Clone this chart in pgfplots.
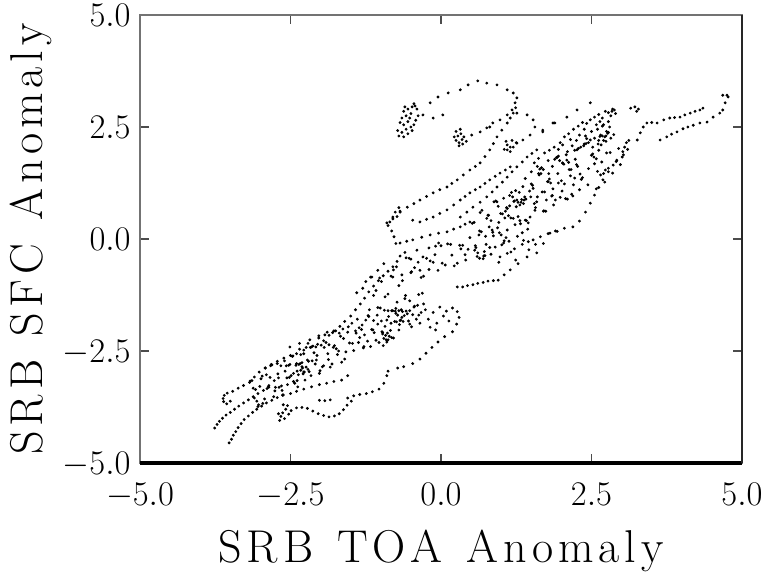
\documentclass[border=0pt]{standalone}
\usepackage{fontspec}
\usepackage{pgfplots}
\pgfplotsset{compat=1.18}
\newcommand{\lk}{\kern2.5pt}
\begin{document}
\begin{tikzpicture}
\begin{axis}[
  scale only axis,
  width=301pt, height=224pt,
  xmin=-5, xmax=5, ymin=-5, ymax=5,
  xtick={-5,-2.5,0,2.5,5}, ytick={-5,-2.5,0,2.5,5},
  xticklabels={$-5.0$,$-2.5$,$0.0$,$2.5$,$5.0$},
  yticklabels={$-5.0$,$-2.5$,$0.0$,$2.5$,$5.0$},
  tick align=inside, major tick length=4.5pt,
  tick style={black!70, line width=0.8pt},
  axis line style={black!55, line width=0.8pt},
  ticklabel style={font=\fontsize{17.5}{20}\selectfont, inner sep=0.5pt, text height=11.5pt, text depth=0pt},
  xticklabel style={yshift=-9pt},
  yticklabel style={xshift=-4pt},
  xlabel={\fontsize{23}{26}\selectfont S\lk R\lk B\lk\ \lk T\lk O\lk A\lk\ \lk A\lk n\lk o\lk m\lk a\lk l\lk y},
  ylabel={\fontsize{23}{26}\selectfont S\lk R\lk B\lk\ \lk S\lk F\lk C\lk\ \lk A\lk n\lk o\lk m\lk a\lk l\lk y},
  xlabel style={at={([yshift=-49.5pt]axis description cs:0.5,0)}, anchor=base, inner sep=0pt},
  ylabel style={at={([xshift=-48.5pt]axis description cs:0,0.5)}, anchor=base, inner sep=0pt},
  clip=false,
]
\addplot[only marks, mark=*, mark size=0.5pt, mark options={draw=none, fill=black, fill opacity=0.8}] coordinates {
(-3.52,-4.55) (-3.48,-4.47) (-3.45,-4.38) (-3.41,-4.30) (-3.37,-4.21) (-3.32,-4.12) (-3.27,-4.03) (-3.20,-3.95) (-3.13,-3.87) (-3.06,-3.80) (-2.98,-3.73) (-2.90,-3.66) (-2.81,-3.60) (-2.72,-3.54) (-2.63,-3.49)
(-3.76,-4.22) (-3.72,-4.14) (-3.68,-4.07) (-3.63,-4.00) (-3.57,-3.93) (-3.50,-3.87) (-3.43,-3.80) (-3.36,-3.73) (-3.28,-3.66) (-3.20,-3.59) (-3.12,-3.52) (-3.04,-3.45) (-2.95,-3.38) (-2.86,-3.31)
(-3.55,-3.44) (-3.60,-3.49) (-3.62,-3.56) (-3.61,-3.63) (-3.56,-3.68) (-3.50,-3.62)
(-3.46,-3.40) (-3.37,-3.33) (-3.28,-3.27) (-3.18,-3.20) (-3.10,-3.08) (-3.02,-2.97) (-2.92,-2.88) (-2.82,-2.80) (-2.72,-2.73) (-2.61,-2.66) (-2.50,-2.60) (-2.40,-2.56) (-2.28,-2.48) (-2.17,-2.42) (-2.05,-2.35) (-1.95,-2.27) (-1.86,-2.15) (-1.78,-2.05) (-1.68,-1.95) (-1.60,-1.84) (-1.50,-1.72) (-1.42,-1.58) (-1.34,-1.45) (-1.27,-1.32) (-1.20,-1.18) (-1.12,-1.05) (-1.04,-0.93) (-0.96,-0.82) (-0.88,-0.72) (-0.80,-0.62) (-0.73,-0.50) (-0.68,-0.38)
(-2.68,-4.05) (-2.66,-3.96) (-2.63,-3.88) (-2.60,-4.01) (-2.58,-3.80) (-2.55,-3.72) (-2.53,-3.91) (-2.49,-3.83) (-2.70,-3.90) (-2.62,-3.70)
(-2.40,-3.77) (-2.31,-3.76) (-2.22,-3.78) (-2.13,-3.84) (-2.04,-3.90) (-1.95,-3.94) (-1.86,-3.97) (-1.77,-3.95) (-1.69,-3.90) (-1.62,-3.81) (-1.56,-3.71) (-1.49,-3.62)
(-2.02,-3.60) (-1.93,-3.61) (-1.84,-3.59)
(-1.55,-3.55) (-1.45,-3.50) (-1.35,-3.47) (-1.24,-3.45) (-1.14,-3.41) (-1.03,-3.35) (-0.95,-3.22) (-0.90,-3.05) (-0.88,-2.95)
(-0.72,-2.88) (-0.62,-2.85) (-0.47,-2.78) (-0.35,-2.68) (-0.25,-2.55) (-0.15,-2.42) (-0.05,-2.30) (0.06,-2.18) (0.19,-2.07) (0.26,-1.90) (0.30,-1.75) (0.27,-1.62)
(-3.17,-3.17) (-3.10,-3.55) (-3.08,-3.36) (-3.03,-3.70) (-2.99,-3.12) (-2.93,-3.57) (-2.92,-2.88) (-2.87,-3.30) (-2.84,-3.09) (-2.78,-3.52) (-2.77,-3.16) (-2.72,-2.78) (-2.69,-3.31) (-2.66,-2.83) (-2.62,-3.48) (-2.59,-2.95) (-2.55,-3.25) (-2.53,-2.82) (-2.49,-3.05) (-2.47,-2.62) (-2.43,-3.22) (-2.40,-2.78) (-2.37,-3.03) (-2.35,-2.46) (-2.31,-2.85) (-2.28,-2.56) (-2.26,-3.15) (-2.22,-2.70) (-2.19,-2.96) (-2.15,-2.41) (-2.13,-2.39) (-2.09,-2.79) (-2.06,-2.60) (-2.02,-3.00) (-1.99,-2.37) (-1.95,-2.83) (-1.93,-2.14) (-1.88,-2.56) (-1.86,-2.36) (-1.81,-2.79) (-1.79,-2.42) (-1.75,-2.05) (-1.72,-2.58) (-1.69,-2.10) (-1.65,-2.75) (-1.62,-2.22) (-1.58,-2.52) (-1.55,-2.08) (-1.52,-2.32) (-1.48,-1.88) (-1.45,-2.49) (-1.42,-2.05)
(-3.14,-3.16) (-3.06,-3.62) (-3.01,-3.29) (-2.96,-3.67) (-2.90,-3.03) (-2.86,-3.27) (-2.81,-2.81) (-2.75,-3.31) (-2.71,-3.01) (-2.64,-3.38) (-2.60,-2.72) (-2.56,-3.10) (-2.51,-2.80) (-2.45,-3.18) (-2.41,-2.82) (-2.38,-3.30) (-2.33,-2.58) (-2.29,-3.01) (-2.24,-2.42) (-2.20,-2.73) (-2.16,-3.05) (-2.11,-2.54) (-2.07,-2.70) (-2.03,-2.21) (-1.97,-2.85) (-1.91,-2.31) (-1.84,-2.86) (-1.77,-2.38) (-1.70,-2.50) (-1.63,-2.01)
(-3.12,-3.33) (-3.04,-3.74) (-2.97,-3.06) (-2.89,-3.34) (-2.83,-2.83) (-2.76,-3.39) (-2.70,-3.10) (-2.63,-3.48) (-2.57,-2.83) (-2.52,-3.09) (-2.46,-2.61) (-2.39,-3.16) (-2.34,-2.78) (-2.28,-2.97) (-2.21,-2.33) (-2.14,-2.72) (-2.08,-2.41) (-2.01,-2.94) (-1.94,-2.42) (-1.87,-2.69) (-1.80,-2.09) (-1.74,-2.45) (-1.67,-2.17) (-1.60,-2.68) (-1.54,-1.96) (-1.47,-2.33) (-1.41,-2.10)
(-2.33,-2.93) (-2.30,-2.88) (-2.27,-2.97) (-2.36,-2.80) (-2.24,-2.86) (-2.31,-2.76) (-2.39,-2.95) (-2.21,-2.91) (-2.65,-3.28) (-2.45,-3.00)
(-2.50,-3.45) (-2.40,-3.40) (-2.28,-3.35) (-2.15,-3.30) (-2.02,-3.25) (-1.90,-3.22) (-1.78,-3.18) (-1.65,-3.15) (-1.55,-3.05)
(-1.39,-1.79) (-1.35,-2.20) (-1.32,-2.02) (-1.29,-2.43) (-1.25,-1.81) (-1.22,-2.28) (-1.19,-1.58) (-1.15,-2.02) (-1.12,-1.82) (-1.08,-2.26) (-1.05,-1.90) (-1.01,-1.54) (-0.98,-2.07) (-0.94,-1.59) (-0.91,-2.25) (-0.87,-1.73) (-0.84,-2.04) (-0.80,-1.60) (-0.77,-1.84) (-0.73,-1.41) (-0.70,-2.03) (-0.66,-1.58) (-0.63,-1.84) (-0.59,-1.26) (-0.56,-1.67) (-0.52,-1.38) (-0.49,-1.96) (-0.45,-1.52) (-0.41,-1.79) (-0.37,-1.24) (-0.33,-1.64) (-0.29,-1.45)
(-1.37,-2.31) (-1.31,-1.92) (-1.27,-2.14) (-1.21,-1.71) (-1.17,-2.40) (-1.11,-2.09) (-1.06,-1.70) (-1.03,-2.31) (-0.99,-1.83) (-0.96,-2.38) (-0.93,-1.95) (-0.89,-2.10) (-0.83,-1.88) (-0.79,-2.21) (-0.75,-1.66) (-0.69,-1.91) (-0.61,-1.71) (-0.54,-1.83) (-0.47,-1.69) (-0.39,-1.48) (-0.35,-1.88)
(-1.36,-1.98) (-1.28,-2.40) (-1.20,-1.73) (-1.13,-2.03) (-1.05,-1.53) (-0.97,-2.09) (-0.90,-1.81) (-0.82,-2.20) (-0.75,-1.55) (-0.67,-1.81) (-0.60,-1.33) (-0.52,-1.90) (-0.44,-1.50) (-0.37,-1.70) (-0.31,-1.21)
(-0.95,-2.22) (-0.92,-2.15) (-0.88,-2.25) (-0.86,-2.17) (-0.90,-2.30) (-0.97,-2.12) (-0.72,-1.70) (-0.68,-1.82) (-0.65,-1.75) (-0.74,-1.85)
(-0.88,-1.60) (-0.82,-1.60) (-0.76,-1.61) (-0.70,-1.60) (-0.64,-1.62) (-0.58,-1.61) (-0.52,-1.60)
(-0.26,-1.58) (-0.21,-1.79) (-0.13,-1.64) (-0.07,-1.88) (-0.02,-1.52) (0.04,-1.72) (0.09,-1.61) (0.13,-1.83) (0.19,-1.54) (-0.18,-1.97) (-0.09,-2.03)
(-1.17,-0.85) (-1.08,-1.15) (-0.99,-0.95) (-0.88,-1.23) (-0.79,-0.69) (-0.70,-1.04) (-0.58,-0.42) (-0.49,-0.73) (-0.38,-0.52) (-0.29,-0.83) (-0.18,-0.49) (-0.09,-0.16) (0.02,-0.54) (0.11,-0.11) (0.22,-0.60) (0.31,-0.14) (0.40,-0.35) (0.48,0.03)
(-1.12,-1.26) (-1.02,-0.87) (-0.93,-1.29) (-0.83,-0.83) (-0.74,-0.62) (-0.64,-0.93) (-0.53,-0.43) (-0.44,-0.64) (-0.33,-0.86) (-0.24,-0.43) (-0.13,-0.52) (-0.04,-0.09) (0.07,-0.58) (0.16,-0.12) (0.27,-0.54) (0.36,-0.14) (0.45,-0.23)
(0.27,-1.07) (0.36,-1.07) (0.44,-1.04) (0.53,-1.02) (0.61,-0.99) (0.70,-0.97) (0.78,-0.94) (0.87,-0.93) (0.95,-0.92)
(0.18,-0.36) (0.33,-0.22) (0.41,-0.47) (0.56,-0.25) (0.64,-0.43) (0.75,-0.12) (0.83,-0.34) (0.96,-0.52) (1.04,-0.09) (1.16,-0.29) (1.24,-0.47) (1.37,-0.03) (1.46,-0.24) (1.57,-0.12)
(-2.51,-2.41) (-2.35,-2.33) (-2.18,-2.25) (-2.03,-2.16) (-1.89,-2.08)
(-0.88,0.30) (-0.85,0.38) (-0.80,0.45) (-0.73,0.50) (-0.68,0.62) (-0.70,0.70) (-0.76,0.60) (-0.75,-0.10) (-0.78,0.05) (-0.82,0.18)
(-0.90,0.36) (-0.80,0.49) (-0.68,0.60) (-0.56,0.71) (-0.45,0.79) (-0.35,0.87) (-0.24,0.95) (-0.13,1.03) (-0.02,1.10) (0.10,1.16) (0.18,1.24) (0.27,1.32) (0.37,1.43) (0.48,1.54) (0.57,1.62) (0.65,1.70) (0.73,1.84) (0.81,1.99) (0.87,2.13) (0.93,2.28) (1.01,2.43) (1.10,2.59) (1.15,2.70) (1.20,2.81) (1.24,2.93)
(-0.47,0.42) (-0.35,0.38) (-0.24,0.44) (-0.13,0.49) (-0.02,0.57) (0.10,0.65) (0.21,0.76) (0.32,0.87) (0.40,0.95) (0.48,1.03) (0.57,1.10) (0.65,1.16) (0.73,1.24) (0.81,1.32) (0.90,1.40) (0.98,1.47) (1.07,1.54) (1.15,1.61)
(0.32,0.49) (0.43,0.60) (0.53,0.71) (0.65,0.82) (0.76,0.94) (0.85,1.05) (0.93,1.16) (1.02,1.27) (1.10,1.38) (1.18,1.50) (1.26,1.61) (1.35,1.72) (1.43,1.83) (1.51,1.91) (1.59,1.99)
(-0.68,-0.09) (-0.57,-0.05) (-0.47,-0.02) (-0.32,0.04) (-0.18,0.09) (-0.04,0.13) (0.10,0.16) (0.21,0.22) (0.32,0.27) (0.40,0.33) (0.48,0.38)
(0.52,0.35) (0.58,-0.19) (0.63,0.09) (0.70,-0.44) (0.76,0.46) (0.81,-0.19) (0.88,0.83) (0.94,0.25) (0.99,0.57) (1.05,-0.04) (1.12,0.52) (1.17,1.04) (1.23,0.32) (1.30,1.04) (1.35,0.14) (1.41,0.89) (1.48,0.49) (1.53,1.13) (1.59,0.83) (1.66,1.46) (1.71,0.63) (1.77,1.28) (1.84,0.96) (1.89,1.78) (1.95,1.25) (2.02,1.69) (2.07,0.90) (2.13,1.55) (2.20,1.21) (2.26,1.99) (2.31,1.45) (2.38,2.12) (2.44,1.21) (2.50,1.87)
(0.55,0.37) (0.61,-0.31) (0.67,0.16) (0.73,-0.37) (0.79,0.53) (0.85,0.20) (0.91,0.85) (0.97,0.14) (1.02,0.56) (1.08,0.03) (1.14,0.97) (1.20,0.46) (1.26,0.87) (1.32,0.34) (1.38,0.87) (1.44,0.22) (1.50,1.23) (1.56,0.64) (1.62,1.46) (1.68,1.05) (1.74,0.62) (1.80,1.34) (1.86,1.12) (1.92,1.82) (1.98,0.93) (2.04,1.67) (2.10,0.89) (2.16,1.55) (2.22,1.36) (2.28,2.02)
(0.60,-0.39) (0.68,0.64) (0.74,0.06) (0.83,0.41) (0.90,-0.18) (0.96,0.37) (1.04,0.91) (1.10,0.20) (1.19,0.94) (1.27,0.06) (1.33,0.82) (1.40,0.42) (1.47,1.07) (1.55,0.79) (1.63,1.43) (1.70,0.62) (1.78,1.28) (1.85,0.97) (1.93,1.82) (2.00,1.30) (2.09,1.76) (2.17,1.00) (2.25,1.66) (2.33,1.33) (2.41,2.13) (2.48,2.21) (2.55,1.68) (2.62,1.98) (2.70,1.46) (2.77,2.36)
(0.64,0.18) (0.71,-0.38) (0.78,0.53) (0.86,0.15) (0.93,0.83) (1.00,0.09) (1.06,0.47) (1.13,-0.05) (1.21,0.84) (1.28,0.50) (1.36,1.17) (1.42,0.41) (1.49,0.94) (1.57,0.70) (1.64,1.56) (1.72,1.05) (1.79,1.46) (1.87,0.76) (1.94,1.46) (2.01,1.07) (2.08,1.88) (2.15,1.41) (2.23,1.78) (2.30,1.10) (2.37,2.08) (2.45,1.57) (2.52,1.90) (2.60,1.51) (2.68,2.52) (2.75,1.92)
(0.57,-0.15) (0.65,0.59) (0.72,-0.28) (0.80,0.27) (0.87,0.07) (0.95,0.73) (1.01,-0.13) (1.09,0.70) (1.16,0.47) (1.24,1.08) (1.31,0.41) (1.39,0.94) (1.45,0.36) (1.52,1.20) (1.60,0.94) (1.67,1.59) (1.75,0.87) (1.82,1.25) (1.90,0.87) (1.97,1.75) (2.05,1.23) (2.12,1.71) (2.19,0.96) (2.27,1.62) (2.35,1.37) (2.42,2.24) (2.58,1.79) (2.64,2.29) (2.73,1.54) (2.82,2.25)
(1.28,0.82) (1.31,0.76) (1.34,0.88) (1.25,0.72) (1.22,0.85) (1.37,0.79) (1.10,0.68) (1.14,0.74) (1.07,0.62)
(2.54,1.83) (2.58,1.12) (2.61,2.12) (2.65,1.43) (2.67,1.72) (2.72,1.27) (2.74,2.18) (2.78,1.58) (2.81,1.93) (2.85,1.47) (2.87,2.33) (2.91,1.73) (2.95,2.02) (2.98,1.66) (3.01,1.83)
(1.53,-0.02) (1.65,0.05) (1.78,0.12) (1.90,0.18) (2.05,0.24) (2.19,0.27) (2.30,0.40) (2.40,0.60) (2.48,0.80) (2.55,0.98) (2.62,1.15) (2.69,1.32) (2.78,1.50) (2.86,1.65) (2.92,1.76) (3.03,1.88)
(0.98,-0.40) (1.10,-0.32) (1.22,-0.22) (1.35,-0.12) (1.45,-0.06)
(1.05,-0.80) (1.15,-0.69) (1.28,-0.55) (1.43,-0.40) (1.59,-0.31) (1.70,-0.10) (1.81,0.13) (1.93,0.17)
(1.40,1.35) (1.50,1.50) (1.60,1.62) (1.70,1.55) (1.78,1.75) (1.85,1.62) (1.95,1.85) (2.02,1.70) (2.10,1.95) (2.18,2.08) (2.25,2.20) (2.32,2.05) (2.40,2.30) (2.45,2.15) (2.50,2.40) (2.55,2.25) (2.60,2.45) (2.65,2.32) (2.70,2.55) (2.75,2.40) (2.78,2.62) (2.82,2.75) (2.85,2.90) (2.80,2.50) (2.72,2.28) (2.62,2.20) (2.52,2.05)
(1.55,1.70) (1.62,1.80) (1.72,1.92) (1.80,1.98) (1.88,2.05) (1.98,2.15) (2.05,2.28) (2.12,2.35) (2.20,2.45) (2.28,2.52) (2.35,2.60) (2.42,2.58) (2.48,2.66) (2.55,2.72) (2.62,2.78) (2.68,2.70) (2.73,2.85) (2.15,2.22) (2.22,1.98) (2.30,2.32) (2.38,2.45) (2.58,2.55) (2.64,2.62) (1.95,2.00) (2.02,2.10)
(2.66,2.10) (2.70,2.20) (2.74,2.30) (2.78,2.38) (2.68,2.30) (3.02,1.95) (3.05,2.05) (3.08,2.15) (3.12,2.20) (3.10,2.00) (2.78,2.82) (2.84,2.85) (2.90,2.80) (2.88,2.88) (3.15,2.92) (3.22,2.95) (3.28,2.90) (3.25,2.85)
(2.48,3.04) (2.26,2.88) (2.09,2.72) (1.89,2.59) (1.69,2.39)
(3.36,2.50) (3.31,2.37) (3.26,2.21) (3.42,2.59) (3.50,2.60) (3.59,2.59) (3.70,2.66) (3.80,2.70) (3.88,2.71) (3.97,2.72) (4.05,2.77) (4.14,2.81) (4.22,2.85) (4.30,2.88) (4.35,2.92)
(3.64,2.21) (3.75,2.28) (3.83,2.34) (3.92,2.39) (4.02,2.46) (4.10,2.50) (4.19,2.54) (4.30,2.59) (4.42,2.61) (4.52,2.72) (4.63,2.81) (4.68,2.88) (4.72,3.04) (4.75,3.21) (4.68,3.21) (4.77,3.17)
(-0.62,2.85) (-0.55,2.90) (-0.48,2.95) (-0.43,2.97) (-0.40,2.90) (-0.45,3.02) (-0.50,2.80) (-0.58,2.75) (-0.65,2.70) (-0.68,2.60) (-0.62,2.55) (-0.55,2.62) (-0.50,2.50) (-0.58,2.45) (-0.65,2.38) (-0.70,2.30) (-0.62,2.28) (-0.55,2.35) (-0.48,2.42) (-0.45,2.55) (-0.42,2.65) (-0.72,2.42) (-0.52,2.70) (-0.60,2.95) (-0.38,2.75)
(-0.30,2.77) (-0.13,2.70) (0.03,2.77)
(-0.18,3.04) (-0.05,3.17) (0.12,3.26) (0.32,3.33) (0.45,3.44) (0.61,3.53) (0.76,3.48) (0.93,3.44) (1.10,3.33) (1.20,3.26) (1.26,3.15) (1.23,3.04) (1.18,2.88) (1.10,2.77) (0.98,2.66) (0.86,2.59) (0.76,2.48) (0.65,2.39) (0.51,2.32)
(0.25,2.20) (0.30,2.15) (0.35,2.22) (0.28,2.30) (0.33,2.35) (0.38,2.28) (0.30,2.08) (0.25,2.40) (0.42,2.18) (0.36,2.12) (0.32,2.45) (0.22,2.28)
(1.26,2.81) (1.43,2.77) (1.53,2.66) (1.56,2.50) (1.48,2.32) (1.36,2.21) (1.26,2.14) (1.15,2.05) (1.10,1.99)
(1.05,2.00) (1.10,2.10) (1.15,1.95) (1.20,2.05) (1.25,2.15) (1.08,2.18) (1.18,2.20)
(1.86,2.59) (1.69,2.43) (0.81,2.50)
(-1.40,-1.20) (-1.30,-1.10) (-1.25,-0.95) (-1.15,-0.85) (-1.05,-0.70) (-0.95,-0.55) (-0.60,-0.30) (-0.50,-0.45) (-0.40,-0.25) (-0.30,-0.40) (-0.20,-0.20) (-0.10,-0.35) (0.00,-0.15)
(-0.80,-0.85) (-0.65,-0.80) (-0.50,-0.75) (-0.35,-0.70) (-0.20,-0.68) (-0.05,-0.70)
};
\draw[black, line width=1.6pt] (rel axis cs:0,0) -- (rel axis cs:1,0);
\draw[black!85, line width=1.1pt] (rel axis cs:1,0) -- (rel axis cs:1,1);
\end{axis}
\path ([shift={(-70pt,-54pt)}]current axis.south west) rectangle ([shift={(14.5pt,7.5pt)}]current axis.north east);
\end{tikzpicture}
\end{document}
